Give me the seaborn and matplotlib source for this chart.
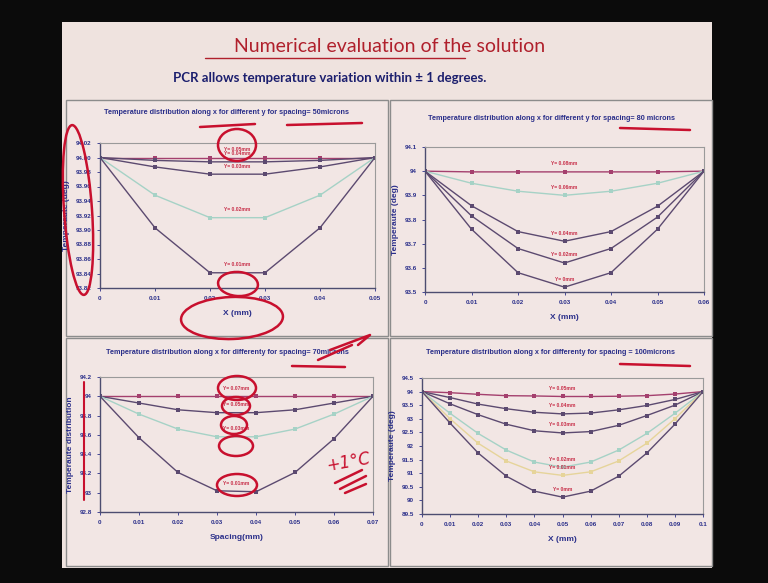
import numpy as np
import pandas as pd
import matplotlib
matplotlib.use("Agg")
import matplotlib.pyplot as plt
import seaborn as sns
from matplotlib.patches import Rectangle, Ellipse
from matplotlib.lines import Line2D

# ---------------- data ----------------
main_title = "Numerical evaluation of the solution"
subtitle = "PCR allows temperature variation within \u00b1 1 degrees."

titles = [
    "Temperature distribution along x for different y for spacing= 50microns",
    "Temperature distribution along x for different y for spacing= 80 microns",
    "Temperature distribution along x for differenty for spacing= 70microns",
    "Temperature distribution along x for differenty for spacing = 100microns",
]
xlabels = ["X (mm)", "X (mm)", "Spacing(mm)", "X (mm)"]
ylabels = ["Temperaute (deg)", "Temperaute (deg)", "Temperaute distribution", "Temperaute (deg)"]

x50 = [0, 0.01, 0.02, 0.03, 0.04, 0.05]
t50 = [
    [94.0, 94.0, 94.0, 94.0, 94.0, 94.0],
    [94.0, 93.996, 93.994, 93.994, 93.996, 94.0],
    [94.0, 93.987, 93.977, 93.977, 93.987, 94.0],
    [94.0, 93.948, 93.917, 93.917, 93.948, 94.0],
    [94.0, 93.903, 93.841, 93.841, 93.903, 94.0],
]
lab50 = ["Y= 0.05mm", "Y= 0.04mm", "Y= 0.03mm", "Y= 0.02mm", "Y= 0.01mm"]
yt50 = [93.82, 93.84, 93.86, 93.88, 93.90, 93.92, 93.94, 93.96, 93.98, 94.00, 94.02]
xt50 = [0, 0.01, 0.02, 0.03, 0.04, 0.05]

x80 = [0, 0.01, 0.02, 0.03, 0.04, 0.05, 0.06]
t80 = [
    [94.0, 93.997, 93.997, 93.997, 93.997, 93.997, 94.0],
    [94.0, 93.95, 93.917, 93.90, 93.917, 93.95, 94.0],
    [94.0, 93.857, 93.75, 93.71, 93.75, 93.855, 94.0],
    [94.0, 93.815, 93.68, 93.62, 93.68, 93.81, 94.0],
    [94.0, 93.76, 93.58, 93.52, 93.58, 93.76, 94.0],
]
lab80 = ["Y= 0.08mm", "Y= 0.06mm", "Y= 0.04mm", "Y= 0.02mm", "Y= 0mm"]
yt80 = [93.5, 93.6, 93.7, 93.8, 93.9, 94.0, 94.1]
xt80 = [0, 0.01, 0.02, 0.03, 0.04, 0.05, 0.06]

x70 = [0, 0.01, 0.02, 0.03, 0.04, 0.05, 0.06, 0.07]
t70 = [
    [94.0, 94.0, 94.0, 94.0, 94.0, 94.0, 94.0, 94.0],
    [94.0, 93.93, 93.86, 93.83, 93.83, 93.86, 93.93, 94.0],
    [94.0, 93.815, 93.66, 93.58, 93.58, 93.66, 93.815, 94.0],
    [94.0, 93.57, 93.21, 93.02, 93.01, 93.21, 93.56, 94.0],
]
lab70 = ["Y= 0.07mm", "Y= 0.05mm", "Y= 0.03mm", "Y= 0.01mm"]
yt70 = [92.8, 93.0, 93.2, 93.4, 93.6, 93.8, 94.0, 94.2]
xt70 = [0, 0.01, 0.02, 0.03, 0.04, 0.05, 0.06, 0.07]

x100 = [0, 0.01, 0.02, 0.03, 0.04, 0.05, 0.06, 0.07, 0.08, 0.09, 0.1]
t100 = [
    [94.0, 93.96, 93.90, 93.85, 93.84, 93.82, 93.82, 93.83, 93.85, 93.91, 94.0],
    [94.0, 93.78, 93.54, 93.37, 93.24, 93.18, 93.21, 93.33, 93.49, 93.71, 94.0],
    [94.0, 93.55, 93.15, 92.80, 92.56, 92.48, 92.53, 92.76, 93.12, 93.50, 94.0],
    [94.0, 93.20, 92.46, 91.85, 91.41, 91.22, 91.41, 91.85, 92.46, 93.20, 94.0],
    [94.0, 93.00, 92.10, 91.45, 91.05, 90.92, 91.05, 91.45, 92.10, 93.00, 94.0],
    [94.0, 92.84, 91.74, 90.89, 90.34, 90.12, 90.34, 90.89, 91.74, 92.80, 94.0],
]
lab100 = ["Y= 0.05mm", "Y= 0.04mm", "Y= 0.03mm", "Y= 0.02mm", "Y= 0.01mm", "Y= 0mm"]
yt100 = [89.5, 90.0, 90.5, 91.0, 91.5, 92.0, 92.5, 93.0, 93.5, 94.0, 94.5]
xt100 = [0, 0.01, 0.02, 0.03, 0.04, 0.05, 0.06, 0.07, 0.08, 0.09, 0.1]

# ---------------- style ----------------
sns.set_theme(style="white")
plt.rcParams["font.family"] = ["Liberation Sans Narrow", "Liberation Sans", "DejaVu Sans"]

W, H = 768, 583
BG = "#0b0b0b"
SLIDE = "#efe3df"
PANEL = "#f2e6e4"
NAVY = "#2b2f8a"
LBLRED = "#c8304a"
INK = "#c8102e"

C_TOP = "#a4406e"
C_DARK = "#5c4a70"
C_LIGHT = "#a6d2c6"
C_YEL = "#e6d49a"

fig = plt.figure(figsize=(W / 100, H / 100), dpi=100, facecolor=BG)


def fx(x):
    return x / W


def fy(y):
    return 1 - y / H


def rect(l, t, r, b):
    return [fx(l), fy(b), (r - l) / W, (b - t) / H]


# slide background
fig.patches.append(Rectangle((fx(62), fy(568)), (712 - 62) / W, (568 - 22) / H,
                             transform=fig.transFigure, facecolor=SLIDE, edgecolor="none", zorder=-3))

fig.text(fx(390), fy(46), main_title, ha="center", va="center", fontsize=14,
         color="#b0202c", family=["Lato", "DejaVu Sans"])
fig.add_artist(Line2D([fx(205), fx(465)], [fy(58), fy(58)], transform=fig.transFigure,
                      color="#b0202c", lw=1))
fig.text(fx(330), fy(78), subtitle, ha="center", va="center", fontsize=9.5,
         color="#1c1f6e", family=["Lato", "DejaVu Sans"], fontweight="bold")

panels = [
    dict(box=(66, 100, 388, 336), ax=(100, 143, 375, 288), x=x50, t=t50, lab=lab50,
         yt=yt50, xt=xt50, ylim=(93.82, 94.02), yfmt="{:.2f}", ty=113,
         colors=[C_TOP, C_DARK, C_DARK, C_LIGHT, C_DARK]),
    dict(box=(390, 100, 712, 336), ax=(425, 147, 704, 292), x=x80, t=t80, lab=lab80,
         yt=yt80, xt=xt80, ylim=(93.5, 94.1), yfmt="{:.1f}", ty=118,
         colors=[C_TOP, C_LIGHT, C_DARK, C_DARK, C_DARK]),
    dict(box=(66, 338, 388, 566), ax=(100, 377, 373, 512), x=x70, t=t70, lab=lab70,
         yt=yt70, xt=xt70, ylim=(92.8, 94.2), yfmt="{:.1f}", ty=352,
         colors=[C_TOP, C_DARK, C_LIGHT, C_DARK]),
    dict(box=(390, 338, 712, 566), ax=(422, 378, 703, 514), x=x100, t=t100, lab=lab100,
         yt=yt100, xt=xt100, ylim=(89.5, 94.5), yfmt="{:.1f}", ty=353,
         colors=[C_TOP, C_DARK, C_DARK, C_LIGHT, C_YEL, C_DARK]),
]


def fmt_tick(v, f):
    s = f.format(v)
    if f == "{:.1f}":
        s = s.rstrip("0").rstrip(".")
    return s


for i, p in enumerate(panels):
    l, t, r, b = p["box"]
    fig.patches.append(Rectangle((fx(l), fy(b)), (r - l) / W, (b - t) / H,
                                 transform=fig.transFigure, facecolor=PANEL,
                                 edgecolor="#8c8c8c", lw=1, zorder=-2))
    ax = fig.add_axes(rect(*p["ax"]))
    ax.set_zorder(2)
    ax.set_facecolor(PANEL)
    rows = []
    for k, series in enumerate(p["t"]):
        for xv, tv in zip(p["x"], series):
            rows.append({"x": xv, "T": tv, "curve": p["lab"][k]})
    df = pd.DataFrame(rows)
    pal = dict(zip(p["lab"], p["colors"]))
    sns.lineplot(data=df, x="x", y="T", hue="curve", palette=pal, marker="s",
                 markersize=2.4, linewidth=1.0, markeredgewidth=0, legend=False,
                 ax=ax, sort=False)
    xc = (p["x"][0] + p["x"][-1]) / 2
    for k, series in enumerate(p["t"]):
        yc = min(series)
        ax.annotate(p["lab"][k], (xc, yc), xytext=(0, 4), textcoords="offset points",
                    ha="center", va="bottom", fontsize=3.6, color=LBLRED, fontweight="bold")
    ax.set_xlim(p["xt"][0], p["xt"][-1])
    ax.set_ylim(*p["ylim"])
    ax.set_xticks(p["xt"])
    ax.set_yticks(p["yt"])
    ax.set_xticklabels([("0" if v == 0 else f"{v:g}") for v in p["xt"]])
    ax.set_yticklabels([fmt_tick(v, p["yfmt"]) for v in p["yt"]])
    ax.tick_params(axis="both", labelsize=4.5, colors=NAVY, length=2, width=0.6,
                   direction="out", pad=4, bottom=True, left=True)
    for lbl in ax.get_xticklabels() + ax.get_yticklabels():
        lbl.set_fontweight("bold")
    for s in ["top", "right"]:
        ax.spines[s].set_color("#9a9a9a")
        ax.spines[s].set_linewidth(0.8)
    for s in ["left", "bottom"]:
        ax.spines[s].set_color("#4d4d70")
        ax.spines[s].set_linewidth(1.0)
    ax.set_xlabel(xlabels[i], fontsize=6, color=NAVY, fontweight="bold", labelpad=6)
    ax.set_ylabel(ylabels[i], fontsize=6, color=NAVY, fontweight="bold", labelpad=4)
    ax.grid(False)
    fig.text(fx((l + r) / 2), fy(p["ty"]), titles[i], ha="center", va="center",
             fontsize=5.2, color=NAVY, fontweight="bold")

# ---------------- handwritten red annotations ----------------
def ell(cx, cy, w, h, ang=0, lw=1.8):
    fig.patches.append(Ellipse((fx(cx), fy(cy)), w / W, h / H, angle=ang,
                               transform=fig.transFigure, fill=False,
                               edgecolor=INK, lw=lw, zorder=10))


def stroke(xs, ys, lw=1.8):
    fig.add_artist(Line2D([fx(v) for v in xs], [fy(v) for v in ys],
                          transform=fig.transFigure, color=INK, lw=lw, zorder=10,
                          solid_capstyle="round"))


ell(78, 210, 28, 170, ang=3)
ell(237, 145, 38, 32)
ell(238, 284, 40, 24, ang=-8)
ell(232, 318, 102, 42, ang=3)
stroke([200, 255], [127, 124])
stroke([287, 362], [125, 123])
stroke([620, 690], [128, 130])
stroke([292, 345], [366, 367])
stroke([330, 370, 358], [350, 335, 345])
stroke([318, 352], [360, 345])
ell(237, 388, 38, 24)
ell(236, 406, 28, 18)
ell(234, 425, 26, 18)
ell(236, 446, 34, 20)
ell(237, 485, 40, 22)
stroke([84, 84], [382, 500], lw=1.5)
fig.text(fx(348), fy(462), "+1\u00b0C", fontsize=12, color=INK, rotation=10,
         ha="center", va="center", family=["DejaVu Sans"], style="italic", zorder=11)
stroke([335, 362], [483, 470])
stroke([340, 366], [489, 476])
stroke([345, 366], [493, 484])
stroke([620, 690], [364, 366])

fig.savefig("out.png", dpi=100, facecolor=BG)
